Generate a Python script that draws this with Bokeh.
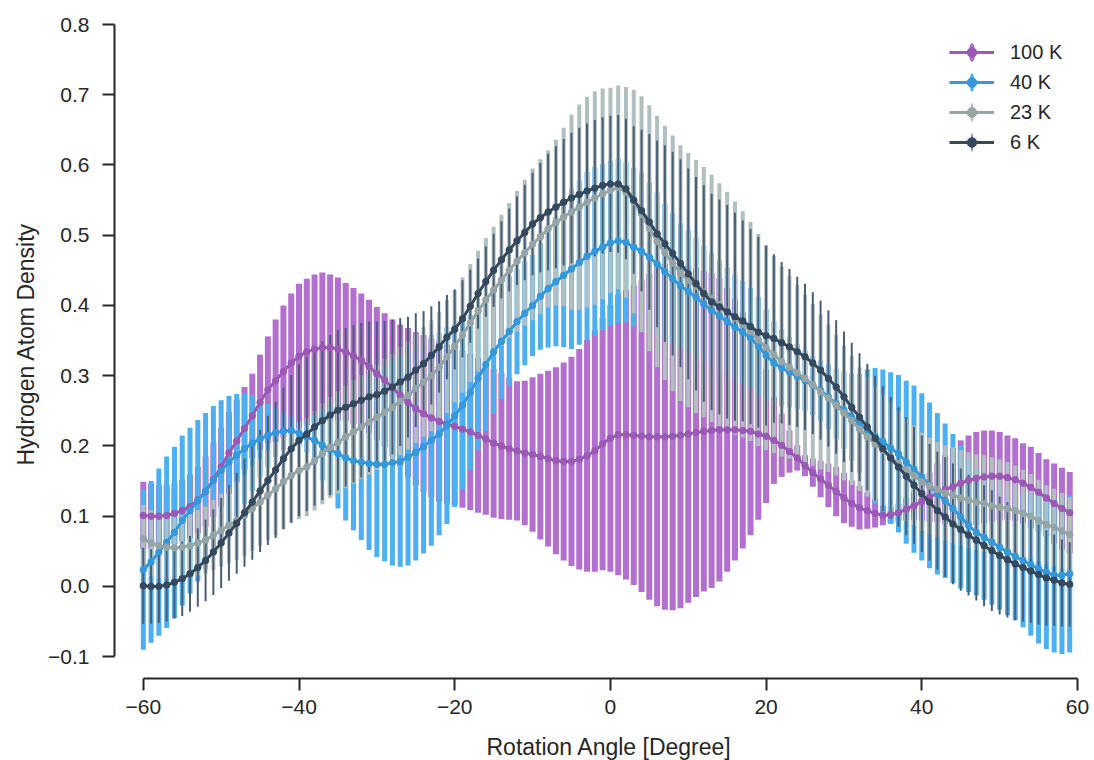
import math
import numpy as np
from bokeh.plotting import figure
from bokeh.models import ColumnDataSource, FixedTicker, Range1d, Legend, LegendItem, Title
from bokeh.embed import file_html
from bokeh.resources import INLINE

angles = list(range(-60, 60))

mean_100K = [
    .101, .100, .100, .101, .104, .108, .114, .123, .135, .152,
    .170, .190, .207, .225, .243, .262, .280, .293, .306, .318,
    .328, .334, .338, .340, .340, .338, .334, .328, .322, .313,
    .303, .294, .283, .272, .262, .253, .246, .240, .235, .231,
    .228, .224, .220, .215, .210, .204, .200, .196, .193, .190,
    .188, .185, .182, .179, .178, .178, .181, .186, .193, .203,
    .211, .216, .216, .215, .214, .213, .213, .213, .214, .215,
    .217, .219, .221, .222, .223, .223, .223, .222, .221, .217,
    .214, .208, .201, .192, .183, .172, .162, .153, .144, .135,
    .126, .118, .112, .108, .104, .101, .102, .105, .110, .115,
    .121, .127, .133, .138, .142, .147, .151, .154, .156, .157,
    .157, .155, .152, .147, .141, .134, .126, .118, .111, .105]
err_100K = [
    .048, .046, .044, .043, .043, .044, .045, .047, .050, .053,
    .056, .058, .059, .059, .060, .068, .076, .087, .094, .099,
    .103, .104, .106, .107, .104, .102, .098, .097, .095, .095,
    .095, .095, .097, .101, .106, .109, .112, .113, .114, .113,
    .112, .112, .111, .110, .108, .106, .104, .101, .099, .103,
    .110, .118, .125, .133, .141, .149, .157, .165, .172, .180,
    .190, .200, .206, .213, .222, .232, .241, .246, .248, .246,
    .240, .234, .228, .224, .216, .202, .186, .168, .148, .122,
    .095, .062, .045, .030, .018, .015, .020, .026, .031, .035,
    .036, .033, .031, .026, .020, .014, .012, .013, .016, .020,
    .027, .035, .042, .049, .055, .061, .064, .066, .066, .065,
    .063, .060, .059, .057, .058, .056, .055, .057, .058, .058]

mean_40K = [
    .024, .035, .049, .063, .077, .094, .108, .122, .136, .151,
    .165, .177, .187, .196, .204, .210, .215, .219, .221, .222,
    .218, .213, .208, .201, .195, .189, .183, .179, .177, .175,
    .174, .174, .176, .178, .184, .191, .199, .208, .217, .229,
    .243, .258, .276, .296, .316, .334, .349, .363, .377, .389,
    .400, .413, .424, .434, .443, .452, .461, .470, .477, .483,
    .489, .492, .490, .483, .477, .469, .459, .448, .438, .428,
    .420, .412, .402, .393, .385, .377, .369, .362, .354, .342,
    .329, .318, .311, .305, .299, .293, .286, .279, .270, .260,
    .251, .241, .232, .222, .214, .206, .197, .189, .177, .167,
    .156, .144, .132, .122, .111, .099, .087, .077, .070, .063,
    .056, .049, .043, .037, .031, .025, .020, .016, .016, .018]
err_40K = [
    .114, .115, .119, .122, .122, .121, .118, .115, .111, .106,
    .100, .094, .087, .079, .068, .055, .045, .035, .027, .020,
    .018, .022, .035, .050, .065, .078, .089, .099, .111, .123,
    .132, .138, .146, .150, .154, .154, .152, .150, .144, .140,
    .130, .120, .110, .102, .095, .088, .082, .078, .075, .074,
    .072, .076, .084, .092, .102, .114, .117, .120, .120, .118,
    .117, .117, .114, .113, .112, .106, .102, .097, .093, .089,
    .087, .085, .083, .081, .079, .077, .075, .073, .071, .070,
    .066, .060, .055, .050, .046, .043, .042, .043, .046, .050,
    .055, .062, .070, .087, .097, .103, .108, .112, .116, .119,
    .119, .118, .115, .110, .106, .102, .095, .090, .089, .089,
    .089, .090, .091, .095, .101, .106, .109, .110, .112, .112]

mean_23K = [
    .068, .062, .058, .056, .055, .056, .058, .062, .066, .073,
    .080, .087, .094, .101, .111, .120, .130, .139, .149, .158,
    .165, .170, .179, .189, .198, .205, .213, .220, .227, .234,
    .241, .248, .255, .264, .272, .282, .291, .300, .312, .327,
    .342, .358, .375, .392, .408, .422, .436, .450, .463, .475,
    .487, .498, .509, .518, .526, .533, .540, .547, .553, .559,
    .564, .568, .561, .548, .530, .510, .491, .475, .460, .446,
    .436, .427, .419, .410, .401, .392, .382, .373, .363, .351,
    .340, .330, .320, .312, .304, .296, .287, .277, .268, .258,
    .247, .236, .224, .213, .203, .194, .184, .175, .166, .158,
    .149, .143, .138, .133, .130, .126, .123, .120, .118, .115,
    .113, .111, .108, .104, .100, .094, .088, .084, .079, .074]
err_23K = [
    .048, .047, .046, .045, .045, .045, .046, .047, .048, .050,
    .052, .054, .056, .058, .060, .062, .064, .066, .067, .068,
    .069, .070, .071, .072, .072, .073, .073, .074, .074, .075,
    .075, .076, .076, .077, .077, .078, .078, .079, .079, .080,
    .080, .082, .084, .086, .088, .090, .093, .096, .100, .104,
    .108, .110, .112, .118, .127, .139, .146, .150, .152, .150,
    .146, .145, .150, .159, .168, .175, .179, .181, .182, .182,
    .181, .180, .178, .176, .173, .170, .166, .161, .156, .151,
    .146, .140, .135, .130, .125, .120, .115, .110, .105, .100,
    .096, .092, .088, .085, .082, .079, .077, .075, .073, .071,
    .070, .069, .068, .068, .068, .068, .068, .068, .069, .069,
    .068, .066, .064, .062, .060, .058, .056, .055, .054, .053]

mean_6K = [
    .001, .000, .000, .002, .006, .011, .018, .027, .037, .049,
    .062, .076, .090, .105, .120, .136, .151, .166, .182, .196,
    .208, .217, .227, .236, .244, .251, .255, .260, .265, .270,
    .273, .278, .284, .291, .298, .308, .317, .329, .341, .355,
    .366, .381, .399, .417, .434, .450, .465, .479, .492, .504,
    .516, .525, .533, .540, .547, .553, .558, .563, .567, .571,
    .573, .573, .566, .550, .535, .519, .502, .488, .474, .460,
    .445, .431, .417, .405, .398, .391, .384, .378, .370, .362,
    .357, .353, .347, .341, .334, .327, .318, .308, .296, .284,
    .270, .255, .241, .227, .211, .196, .183, .170, .157, .144,
    .132, .120, .108, .099, .089, .081, .073, .066, .058, .051,
    .044, .038, .032, .027, .022, .017, .012, .009, .005, .003]
err_6K = [
    .054, .053, .052, .052, .052, .053, .054, .056, .058, .061,
    .064, .068, .072, .077, .082, .087, .092, .097, .101, .105,
    .108, .110, .112, .113, .114, .114, .113, .112, .110, .107,
    .104, .100, .096, .091, .086, .081, .075, .070, .065, .060,
    .057, .055, .052, .050, .050, .052, .055, .059, .063, .068,
    .073, .078, .083, .087, .090, .093, .095, .096, .097, .097,
    .097, .098, .100, .105, .115, .125, .133, .140, .145, .148,
    .150, .152, .154, .154, .153, .152, .148, .143, .139, .136,
    .128, .120, .115, .111, .107, .104, .101, .099, .097, .095,
    .093, .092, .091, .090, .089, .089, .087, .085, .084, .083,
    .083, .083, .084, .085, .086, .087, .086, .086, .086, .086,
    .084, .082, .080, .077, .074, .071, .068, .065, .062, .060]

series_labels = ["100 K", "40 K", "23 K", "6 K"]
series_means = [mean_100K, mean_40K, mean_23K, mean_6K]
series_errs = [err_100K, err_40K, err_23K, err_6K]
line_colors = ["#9b59b6", "#3498db", "#95a5a6", "#34495e"]
bar_colors = ["#b36fcf", "#4caff1", "#b1bfc0", "#4a5e73"]
bar_widths = [6, 5, 4, 2]
legend_bar_widths = [7, 5, 4, 2]

x_ticks = [-60, -40, -20, 0, 20, 40, 60]
x_tick_labels = ["\u221260", "\u221240", "\u221220", "0", "20", "40", "60"]
y_ticks = [-0.1, 0.0, 0.1, 0.2, 0.3, 0.4, 0.5, 0.6, 0.7, 0.8]
y_tick_labels = ["\u22120.1", "0.0", "0.1", "0.2", "0.3", "0.4", "0.5", "0.6", "0.7", "0.8"]
x_label = "Rotation Angle [Degree]"
y_label = "Hydrogen Atom Density"

FONT = "Liberation Sans"
TXT = "#262626"

p = figure(frame_width=963, frame_height=654,
           min_border_left=114, min_border_right=17,
           min_border_top=24, min_border_bottom=82,
           x_range=Range1d(-63.7, 60), y_range=Range1d(-0.131, 0.8),
           output_backend="svg", toolbar_location=None)
p.outline_line_color = None
p.xgrid.visible = False
p.ygrid.visible = False
p.background_fill_color = "white"
p.border_fill_color = "white"

sources = []
for means, errs in zip(series_means, series_errs):
    m = np.array(means)
    e = np.array(errs)
    sources.append(ColumnDataSource(dict(x=angles, y=m, lo=m - e, hi=m + e)))

# error bars first (below all lines)
for src, bc, bw in zip(sources, bar_colors, bar_widths):
    p.segment(x0="x", y0="lo", x1="x", y1="hi", source=src,
              line_color=bc, line_width=bw, line_cap="butt")

items = []
for src, lab, lc, bc, lbw in zip(sources, series_labels, line_colors, bar_colors, legend_bar_widths):
    # legend-only glyph (no drawable position): a tall thin ellipse standing for the error bar
    leg_src = ColumnDataSource(dict(x=[math.nan], y=[math.nan], w=[lbw], h=[21]))
    leg_bar = p.ellipse(x="x", y="y", width="w", height="h", source=leg_src,
                        width_units="screen", height_units="screen",
                        fill_color=bc, line_color=None)
    ln = p.line("x", "y", source=src, line_color=lc, line_width=3)
    mk = p.scatter("x", "y", source=src, marker="circle", size=6.5,
                   fill_color=lc, line_color=lc)
    items.append(LegendItem(label=lab, renderers=[leg_bar, ln, mk]))

legend = Legend(items=items, location=(835, 524), border_line_color=None,
                background_fill_alpha=0, padding=0, margin=0, spacing=6,
                glyph_width=45, glyph_height=24, label_height=24,
                label_standoff=16,
                label_text_font=FONT, label_text_font_size="20px",
                label_text_color=TXT)
p.add_layout(legend, "center")

for ax in (p.xaxis[0], p.yaxis[0]):
    ax.axis_line_width = 2
    ax.axis_line_color = TXT
    ax.major_tick_line_width = 2
    ax.major_tick_line_color = TXT
    ax.major_tick_out = 12
    ax.major_tick_in = 0
    ax.minor_tick_line_color = None
    ax.major_label_text_font = FONT
    ax.major_label_text_font_size = "21px"
    ax.major_label_text_color = TXT

p.xaxis.bounds = (-60, 60)
p.xaxis.ticker = FixedTicker(ticks=x_ticks)
p.xaxis.major_label_overrides = dict(zip(x_ticks, x_tick_labels))
p.xaxis.major_label_standoff = 9
# tiny blank axis label: only adds a little room so the title below sits lower
p.xaxis.axis_label = " "
p.xaxis.axis_label_text_font_size = "1px"
p.xaxis.axis_label_standoff = 8

p.yaxis.bounds = (-0.1, 0.8)
p.yaxis.ticker = FixedTicker(ticks=y_ticks)
p.yaxis.major_label_overrides = dict(zip(y_ticks, y_tick_labels))
p.yaxis.major_label_standoff = 13

# axis titles centred on the offset spines (not on the wider frame)
p.add_layout(Title(text=x_label, align="left", offset=372, standoff=6,
                   text_font=FONT, text_font_size="23px", text_font_style="normal",
                   text_color=TXT), "below")
p.add_layout(Title(text=y_label, align="left", offset=213, standoff=13,
                   text_font=FONT, text_font_size="23px", text_font_style="normal",
                   text_color=TXT), "left")

open("out.html", "w").write(file_html(p, INLINE))
